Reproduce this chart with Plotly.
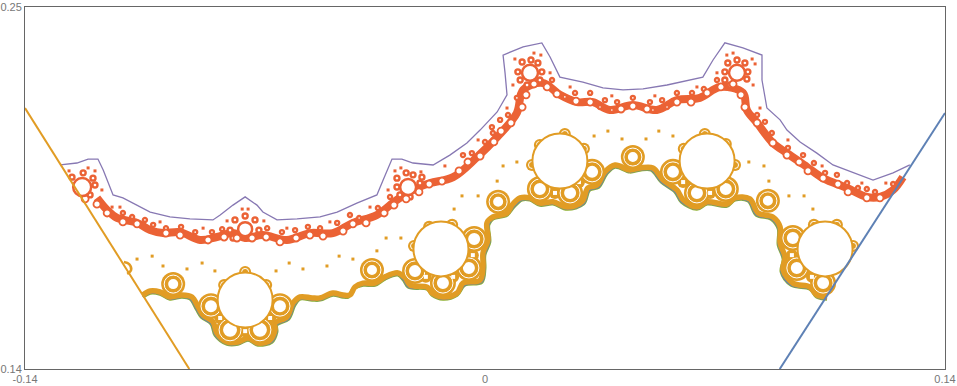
import plotly.graph_objects as go

BLUE = "#5E81B5"; ORANGE = "#E19C24"; GREEN = "#8FB032"; RED = "#EB6235"; PURPLE = "#8778B3"
X_RANGE = [-0.14, 0.14]
Y_RANGE = [0.14, 0.25]
x_ticks = [-0.14, 0, 0.14]
x_tick_labels = ["-0.14", "0", "0.14"]
y_ticks = [0.14, 0.25]
y_tick_labels = ["0.14", "0.25"]

blue_line_x = [0.0897, 0.14]
blue_line_y = [0.14, 0.2178]
orange_line_x = [-0.14, -0.09]
orange_line_y = [0.2193, 0.14]

purple_x = [-.1293,-.1242,-.1208,-.1178,-.1162,-.1150,-.1132,-.1102,-.1059,-.1019,-.0959,-.0898,-.0828,-.0806,-.0767,-.0730,-.0694,-.0676,-.0633,-.0572,-.0502,-.0450,-.0390,-.0329,-.0310,-.0283,-.0253,-.0219,-.0158,-.0107,-.0055,-.0015,.0037,.0067,.0061,.0055,.0116,.0173,.0198,.0228,.0298,.0359,.0420,.0481,.0554,.0663,.0694,.0730,.0785,.0843,.0843,.0858,.0898,.0919,.0959,.1010,.1059,.1120,.1181,.1242,.1293]
purple_y = [.2020,.2026,.2038,.2038,.2005,.1974,.1929,.1920,.1898,.1877,.1862,.1856,.1853,.1868,.1898,.1923,.1898,.1877,.1853,.1856,.1862,.1877,.1904,.1929,.1974,.2038,.2038,.2026,.2020,.2050,.2087,.2126,.2181,.2233,.2300,.2354,.2379,.2391,.2348,.2287,.2272,.2254,.2248,.2251,.2263,.2287,.2339,.2391,.2376,.2354,.2278,.2193,.2157,.2126,.2090,.2056,.2020,.1996,.1974,.1996,.2020]

red_band_x = [-.1181,-.1150,-.1120,-.1059,-.1019,-.0980,-.0928,-.0867,-.0816,-.0767,-.0730,-.0676,-.0603,-.0533,-.0463,-.0402,-.0329,-.0268,-.0207,-.0167,-.0097,-.0024,.0037,.0097,.0116,.0176,.0228,.0280,.0329,.0380,.0450,.0523,.0584,.0654,.0715,.0785,.0797,.0828,.0876,.0919,.0980,.1029,.1102,.1162,.1202,.1242,.1272]
red_band_y = [.1920,.1883,.1859,.1844,.1822,.1813,.1816,.1792,.1801,.1813,.1798,.1807,.1792,.1813,.1813,.1844,.1868,.1914,.1950,.1965,.1983,.2044,.2105,.2178,.2248,.2269,.2233,.2211,.2211,.2187,.2202,.2187,.2217,.2224,.2257,.2239,.2187,.2148,.2087,.2056,.2014,.1980,.1950,.1923,.1923,.1944,.1983]

red_ring_x = [-.1217,-.1181,-.1150,-.1102,-.1059,-.0971,-.0928,-.0843,-.0794,-.0755,-.0709,-.0666,-.0624,-.0575,-.0533,-.0493,-.0432,-.0402,-.0362,-.0307,-.0277,-.0240,-.0201,-.0170,-.0131,-.0079,-.0052,-.0015,.0027,.0049,.0079,.0113,.0125,.0149,.0189,.0219,.0277,.0320,.0414,.0450,.0493,.0584,.0627,.0676,.0718,.0755,.0779,.0791,.0828,.0876,.0919,.0956,.0983,.1029,.1074,.1105,.1162,.1202]
red_ring_y = [.1917,.1901,.1874,.1847,.1841,.1813,.1807,.1792,.1801,.1798,.1798,.1801,.1786,.1798,.1807,.1804,.1819,.1841,.1844,.1874,.1898,.1917,.1938,.1962,.1971,.2002,.2029,.2047,.2090,.2123,.2148,.2196,.2233,.2266,.2257,.2236,.2214,.2211,.2190,.2199,.2190,.2211,.2211,.2239,.2257,.2266,.2233,.2196,.2148,.2087,.2050,.2029,.2002,.1980,.1962,.1938,.1920,.1920]

red_big_x = [-.1226,-.0730,-.0234,.0137,.0767]
red_big_y = [.1953,.1825,.1953,.2300,.2300]
red_big_r = [.00274,.00213,.00243,.00243,.00243]

petal_x = [-.1257,-.1223,-.1193,-.1187,-.1202,-.0776,-.0761,-.0730,-.0700,-.0688,-.0767,-.0268,-.0240,-.0219,-.0192,-.0198,-.0268,-.0259,-.0228,.0113,.0140,.0161,.0173,.0100,.0107,.0128,.0167,.0739,.0767,.0791,.0800,.0730,.0730,.0797,.0746]
petal_y = [.1983,.1996,.1980,.1959,.1929,.1822,.1853,.1865,.1853,.1822,.1798,.1980,.1996,.1990,.1983,.1965,.1953,.1929,.1923,.2333,.2339,.2330,.2303,.2303,.2278,.2263,.2278,.2330,.2339,.2330,.2303,.2303,.2278,.2281,.2263]

bead_x = [-.1102,-.1074,-.1035,-.1010,-.0971,-.0925,-.0882,-.0831,-.0800,-.0663,-.0618,-.0578,-.0539,-.0502,-.0450,-.0411,-.0383,-.0326,-.0289,-.0067,-.0040,.0000,.0024,.0021,.0046,.0070,.0097,.0204,.0243,.0274,.0320,.0365,.0402,.0450,.0502,.0539,.0584,.0630,.0666,.0706,.0828,.0852,.0873,.0922,.0968,.1001,.1035,.1071,.1102,.1135,.1162,.1187,.1242,.0350,.0386,.0511,.0554]
bead_y = [.1874,.1862,.1853,.1838,.1828,.1832,.1816,.1816,.1825,.1828,.1816,.1822,.1832,.1828,.1844,.1868,.1859,.1889,.1923,.2050,.2056,.2090,.2117,.2135,.2157,.2172,.2224,.2278,.2227,.2239,.2239,.2217,.2211,.2224,.2211,.2217,.2239,.2239,.2251,.2278,.2172,.2151,.2117,.2072,.2050,.2026,.1996,.1990,.1965,.1950,.1947,.1938,.1962,.2196,.2187,.2187,.2196]

red_dot_x = [-.1266,-.1208,-.1187,-.1166,-.1135,-.1111,-.0989,-.0858,-.0785,-.0739,-.0721,-.0673,-.0603,-.0472,-.0350,-.0295,-.0274,-.0256,-.0195,-.0122,-.0021,.0085,.0067,.0091,.0149,.0170,.0198,.0259,.0386,.0517,.0645,.0706,.0736,.0755,.0813,.0822,.0816,.0837,.0922,.1026,.1147,.1220]
red_dot_y = [.2002,.2011,.2002,.1944,.1892,.1892,.1847,.1828,.1850,.1886,.1886,.1850,.1828,.1847,.1892,.1944,.2002,.2011,.1999,.2017,.2096,.2263,.2193,.2342,.2360,.2354,.2300,.2257,.2230,.2230,.2257,.2300,.2354,.2360,.2342,.2327,.2263,.2193,.2096,.2017,.1965,.1965]

band_x = [-.1041,-.1019,-.0989,-.0959,-.0922,-.0892,-.0873,-.0858,-.0828,-.0816,-.0785,-.0752,-.0721,-.0691,-.0654,-.0639,-.0639,-.0603,-.0584,-.0563,-.0526,-.0502,-.0463,-.0432,-.0411,-.0396,-.0371,-.0335,-.0304,-.0265,-.0243,-.0228,-.0176,-.0161,-.0128,-.0085,-.0067,-.0015,-.0006,-.0006,.0009,.0006,.0024,.0067,.0082,.0107,.0137,.0167,.0207,.0250,.0295,.0313,.0341,.0365,.0396,.0441,.0472,.0511,.0542,.0584,.0603,.0645,.0676,.0736,.0761,.0806,.0831,.0876,.0898,.0898,.0913,.0907,.0937,.0989,.1010,.1041]
band_y = [.1625,.1637,.1634,.1619,.1625,.1619,.1588,.1564,.1543,.1509,.1482,.1482,.1494,.1479,.1488,.1519,.1540,.1558,.1601,.1619,.1616,.1616,.1631,.1625,.1625,.1649,.1661,.1661,.1680,.1692,.1677,.1655,.1649,.1631,.1619,.1631,.1661,.1670,.1710,.1753,.1792,.1844,.1862,.1874,.1898,.1920,.1920,.1904,.1908,.1892,.1908,.1950,.1959,.1999,.2020,.2005,.2011,.2011,.1974,.1944,.1914,.1892,.1908,.1901,.1920,.1917,.1874,.1862,.1832,.1783,.1740,.1701,.1661,.1649,.1625,.1619]

green_x = [-.1041,-.1019,-.0989,-.0959,-.0922,-.0897,-.0878,-.0863,-.0833,-.0821,-.0785,-.0752,-.0721,-.0691,-.0649,-.0634,-.0634,-.0598,-.0579,-.0563,-.0526,-.0502,-.0463,-.0432,-.0416,-.0401,-.0371,-.0335,-.0304,-.0265,-.0248,-.0233,-.0176,-.0161,-.0128,-.0085,-.0062,-.0010,-.0001,-.0001,.0014,.0011,.0024,.0067,.0087,.0112,.0137,.0167,.0207,.0250,.0300,.0318,.0346,.0370,.0396,.0441,.0472,.0506,.0537,.0579,.0598,.0645,.0676,.0736,.0761,.0801,.0826,.0871,.0893,.0893,.0908,.0902,.0932,.0989,.1010,.1041]
green_y = [.1619,.1631,.1628,.1613,.1619,.1613,.1582,.1558,.1537,.1503,.1476,.1476,.1488,.1473,.1482,.1513,.1534,.1552,.1595,.1613,.1610,.1610,.1625,.1619,.1619,.1643,.1655,.1655,.1674,.1686,.1671,.1649,.1643,.1625,.1613,.1625,.1655,.1664,.1704,.1747,.1786,.1838,.1856,.1868,.1892,.1914,.1914,.1898,.1902,.1886,.1902,.1944,.1953,.1993,.2014,.1999,.2005,.2005,.1968,.1938,.1908,.1886,.1902,.1895,.1914,.1911,.1868,.1856,.1826,.1777,.1734,.1695,.1655,.1643,.1619,.1613]

left_arc_x = [-.1099,-.1083,-.1077,-.1089]
left_arc_y = [.1725,.1719,.1701,.1689]

orange_dot_x = [-.1059,-.1013,-.0980,-.0907,-.0861,-.0822,-.0636,-.0596,-.0554,-.0481,-.0444,-.0402,-.0329,-.0301,-.0256,-.0094,-.0070,-.0021,.0037,.0055,.0097,.0332,.0374,.0417,.0490,.0529,.0572,.0803,.0849,.0864,.0925,.0971,.0998]
orange_dot_y = [.1734,.1743,.1713,.1704,.1722,.1698,.1698,.1722,.1704,.1713,.1743,.1734,.1759,.1798,.1798,.1886,.1926,.1926,.1971,.2017,.2029,.2108,.2123,.2099,.2099,.2123,.2108,.2029,.2017,.1971,.1926,.1926,.1886]

big_x = [-.0730,-.0134,.0228,.0676,.1035]
big_y = [.1610,.1765,.2032,.2032,.1765]
big_r = [.00837,.00837,.00837,.00837,.00837]

sat_x = [-.0834,-.0776,-.0685,-.0624,-.0949,-.0344,-.0213,-.0128,-.0049,-.0033,.0040,.0167,.0259,.0326,.0450,.0572,.0645,.0733,.0861,.0937,.0949,.1029]
sat_y = [.1591,.1519,.1519,.1591,.1658,.1701,.1698,.1661,.1707,.1795,.1908,.1947,.1935,.1999,.2044,.1999,.1935,.1947,.1911,.1798,.1707,.1661]
sat_r = [.00213,.00243,.00243,.00213,.00183,.00183,.00213,.00213,.00213,.00213,.00183,.00213,.00213,.00213,.00183,.00213,.00213,.00213,.00183,.00213,.00213,.00213]

bridge_x = [-.0806,-.0730,-.0654,-.0180,-.0097,-.0037,.0213,.0286,.0685,.0603,.0934,.0995]
bridge_y = [.1555,.1515,.1555,.1680,.1680,.1746,.1935,.1968,.1935,.1968,.1746,.1680]

dome_x = [-.0730,-.0794,-.0666,-.0170,-.0100,-.0216,.0167,.0243,.0301,.0143,.0605,.0669,.0733,.0761,.1001,.1071,.1120]
dome_y = [.1695,.1655,.1655,.1832,.1838,.1774,.2081,.2114,.2069,.2020,.2069,.2114,.2084,.2020,.1838,.1838,.1774]

SCALE = 920 / (X_RANGE[1] - X_RANGE[0])  # pixels per data unit on both axes


def diam(radii, extra=0.0):
    return [2 * r * SCALE + extra for r in radii]


fig = go.Figure()


def line(x, y, color, width, shape="linear"):
    fig.add_trace(go.Scatter(x=x, y=y, mode="lines", line=dict(color=color, width=width, shape=shape), hoverinfo="skip"))


def dots(x, y, size, fill, edge=None, edge_width=0, symbol="circle"):
    fig.add_trace(go.Scatter(x=x, y=y, mode="markers", hoverinfo="skip",
                             marker=dict(size=size, color=fill, symbol=symbol, opacity=1,
                                         line=dict(color=edge or fill, width=edge_width))))


line(green_x, green_y, GREEN, 3.5, "spline")
line(green_x, green_y, BLUE, 2, "spline")
line(band_x, band_y, ORANGE, 5.5, "spline")
line(left_arc_x, left_arc_y, ORANGE, 2.5, "spline")
dots(dome_x, dome_y, 12, ORANGE)
dots(dome_x, dome_y, 7, "rgba(0,0,0,0)", "white", 1)
dots(orange_dot_x, orange_dot_y, 3, ORANGE, symbol="square")
dots(sat_x, sat_y, diam(sat_r, 12), ORANGE)
dots(bridge_x, bridge_y, 12, ORANGE)
dots(bridge_x, bridge_y, 4, "white", symbol="square")
dots(sat_x, sat_y, diam(sat_r, 6), "rgba(0,0,0,0)", "white", 1)
dots(sat_x, sat_y, diam(sat_r), "white", ORANGE, 2)
dots(big_x, big_y, diam(big_r), "white", ORANGE, 2)

line(red_band_x, red_band_y, RED, 8, "spline")
dots(bead_x, bead_y, 4, "white", RED, 2.4)
dots(petal_x, petal_y, 5, "white", RED, 2.4)
dots(red_ring_x, red_ring_y, 7, "white", RED, 1.8)
dots(red_big_x, red_big_y, diam(red_big_r), "white", RED, 2.5)
dots(red_dot_x, red_dot_y, 3, RED, symbol="square")
line(purple_x, purple_y, PURPLE, 1.3)
line(blue_line_x, blue_line_y, BLUE, 2)
line(orange_line_x, orange_line_y, ORANGE, 2)

axis = dict(showgrid=False, zeroline=False, showline=True, mirror=True, linecolor="#666666", linewidth=1,
            automargin=False, ticks="", ticklen=0, tickfont=dict(family="Liberation Sans", size=11, color="#777777"))
fig.update_layout(
    width=957, height=386, autosize=False, showlegend=False,
    margin=dict(l=25, r=12, t=7, b=17, pad=0),
    paper_bgcolor="white", plot_bgcolor="white",
    xaxis=dict(range=X_RANGE, tickvals=x_ticks, ticktext=x_tick_labels, **axis),
    yaxis=dict(range=Y_RANGE, tickvals=y_ticks, ticktext=y_tick_labels, **axis),
)
fig.write_html("out.html", post_script="document.body.style.margin='0';", config=dict(displayModeBar=False))
